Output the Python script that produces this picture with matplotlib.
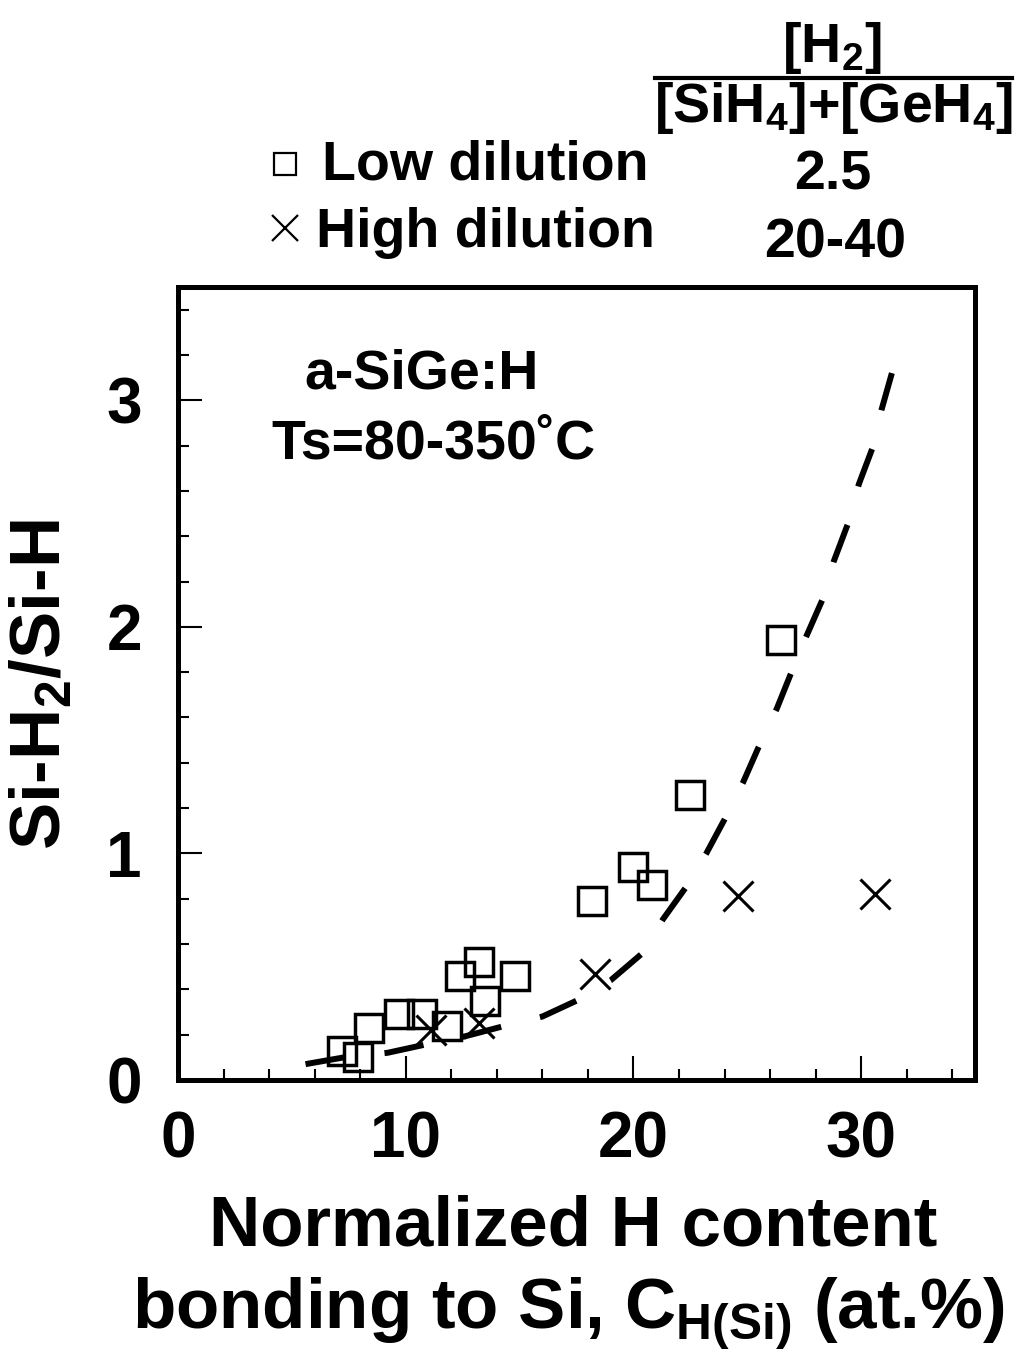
import matplotlib.pyplot as plt
from matplotlib.lines import Line2D
from matplotlib.ticker import MultipleLocator

plt.rcParams['font.family'] = ['Liberation Sans', 'DejaVu Sans']
plt.rcParams['font.weight'] = 'bold'
plt.rcParams['mathtext.fontset'] = 'custom'
plt.rcParams['mathtext.rm'] = 'Liberation Sans:bold'
plt.rcParams['mathtext.it'] = 'Liberation Sans:bold'
plt.rcParams['mathtext.bf'] = 'Liberation Sans:bold'

# low H2 dilution samples (squares)
low_x = [7.2, 7.9, 8.4, 9.7, 10.7, 11.8, 12.4, 13.2, 13.5, 14.8, 18.2, 20.0, 20.8, 22.5, 26.5]
low_y = [0.13, 0.10, 0.23, 0.29, 0.29, 0.24, 0.46, 0.52, 0.35, 0.46, 0.79, 0.94, 0.86, 1.26, 1.94]

# high H2 dilution samples (crosses)
high_x = [11.1, 13.2, 18.3, 24.6, 30.6]
high_y = [0.22, 0.25, 0.47, 0.81, 0.82]

# dashed guide line
guide_x = [5.6, 7.3, 9.2, 10.8, 12.5, 14.2, 16.0, 17.5, 19.0, 20.4, 21.3, 22.3, 23.2,
           24.0, 24.8, 25.5, 26.3, 26.9, 27.6, 28.3, 28.8, 29.4, 29.9, 30.5, 30.9, 31.35]
guide_y = [0.07, 0.10, 0.12, 0.155, 0.19, 0.235, 0.28, 0.35, 0.44, 0.56, 0.71, 0.85, 1.00,
           1.15, 1.31, 1.47, 1.64, 1.79, 1.96, 2.12, 2.29, 2.45, 2.63, 2.79, 2.96, 3.12]

W, H = 1025, 1352


def fx(px):
    return px / W


def fy(py):
    return 1 - py / H


fig = plt.figure(figsize=(10.25, 13.52), dpi=100)
ax = fig.add_axes([fx(178), fy(1080), fx(975) - fx(178), fy(287) - fy(1080)])

ax.plot(guide_x, guide_y, color='black', lw=4.3, dashes=(6.68, 6.68),
        solid_capstyle='butt', dash_capstyle='butt')
ax.plot(low_x, low_y, ls='none', marker='s', ms=20, mfc='none', mec='black', mew=2.5)
ax.plot(high_x, high_y, ls='none', marker='x', ms=21, mec='black', mew=2.2)

ax.set_xlim(0, 35)
ax.set_ylim(0, 3.5)
ax.set_xticks([0, 10, 20, 30])
ax.set_yticks([0, 1, 2, 3])
ax.xaxis.set_minor_locator(MultipleLocator(2))
ax.yaxis.set_minor_locator(MultipleLocator(0.2))
ax.tick_params(which='both', direction='in', top=False, right=False, width=1.5)
ax.tick_params(which='major', length=17)
ax.tick_params(which='minor', length=8)
ax.tick_params(axis='x', labelsize=46, pad=22)
ax.tick_params(axis='y', labelsize=46, pad=26)
for sp in ax.spines.values():
    sp.set_linewidth(3.6)

ax.text(10.7, (1080 - 388) / 226.6, 'a-SiGe:H', ha='center', va='baseline', fontsize=40)
ax.text(11.2, (1080 - 458) / 226.6, 'Ts=80-350˚C', ha='center', va='baseline', fontsize=40)

# axis titles
fig.text(fx(43), fy(685), 'Si-H$_2$/Si-H', rotation=90, ha='center', va='center', fontsize=51)
fig.text(fx(573), fy(1245), 'Normalized H content', ha='center', va='baseline', fontsize=51)
fig.text(fx(568), fy(1328), r'bonding to Si, C$_{\mathrm{H(Si)}}$ (at.%)',
         ha='center', va='baseline', fontsize=51)

# legend with dilution ratios
fig.add_artist(Line2D([fx(285)], [fy(164)], marker='s', ms=16.5, mfc='none', mec='black',
                      mew=1.6, transform=fig.transFigure))
fig.add_artist(Line2D([fx(285)], [fy(228)], marker='x', ms=19, mec='black',
                      mew=1.6, transform=fig.transFigure))
fig.text(fx(322), fy(180), 'Low dilution', ha='left', va='baseline', fontsize=40)
fig.text(fx(316), fy(247), 'High dilution', ha='left', va='baseline', fontsize=40)

fig.text(fx(832), fy(62), '[H$_2$]', ha='center', va='baseline', fontsize=40)
fig.add_artist(Line2D([fx(655), fx(1012)], [fy(78), fy(78)], color='black', lw=3,
                      transform=fig.transFigure))
fig.text(fx(833), fy(122), '[SiH$_4$]+[GeH$_4$]', ha='center', va='baseline', fontsize=40)
fig.text(fx(833), fy(190), '2.5', ha='center', va='baseline', fontsize=40)
fig.text(fx(835), fy(257), '20-40', ha='center', va='baseline', fontsize=40)

fig.savefig('out.png', dpi=100)
